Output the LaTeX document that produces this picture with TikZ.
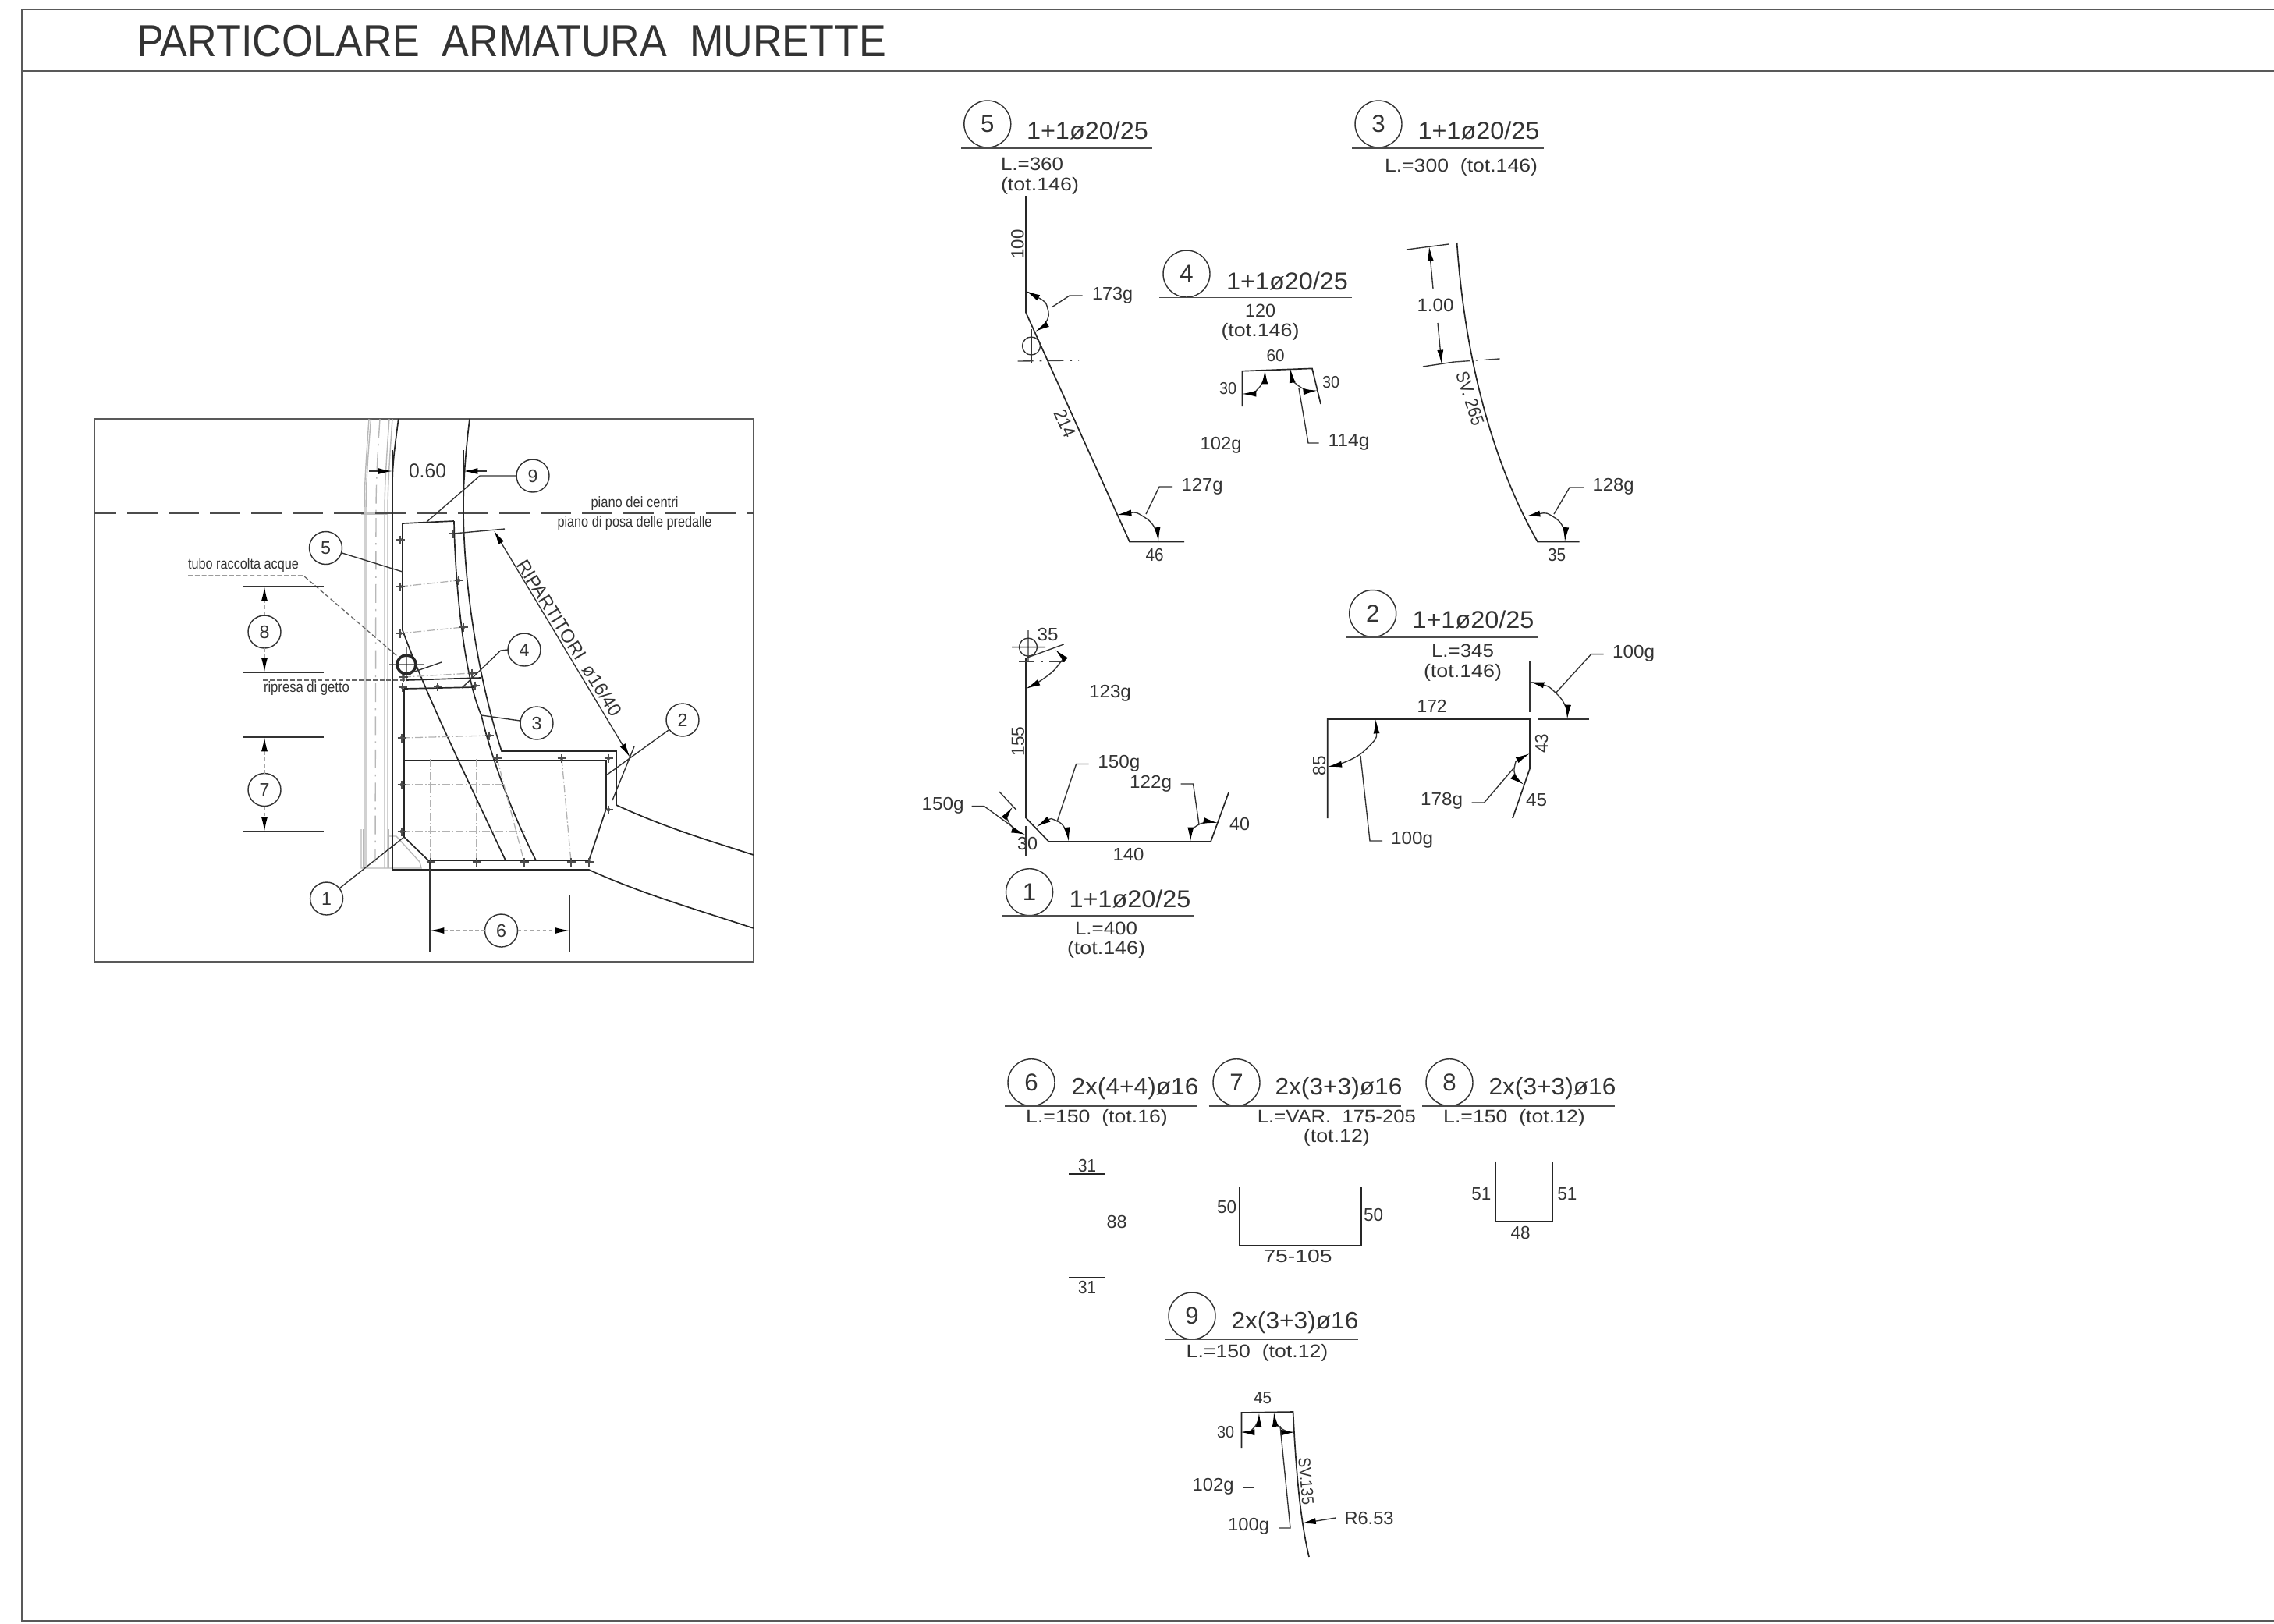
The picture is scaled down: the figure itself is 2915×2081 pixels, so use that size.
\documentclass[tikz,border=0pt]{standalone}
\usepackage{fontspec}
\usepackage{graphicx}
\setmainfont{Liberation Sans}
\usetikzlibrary{arrows.meta,calc}
\newdimen\pxu \pxu=0.25pt
\newcounter{tn}
\newcommand\Tx[5][0]{\stepcounter{tn}\node[txt,rotate=#1,font=\fontsize{#4}{#4}\selectfont] (t\thetn) at (#2) {\resizebox{#3\pxu}{\height}{#5}};}
\newcommand\Cn[5]{\node[numc,minimum size=#3*0.5pt,font=\fontsize{#4}{#4}\selectfont] (#1) at (#2) {#5};}
\newcommand\Rb[1]{\fill[rebar] (#1) circle (2.2);\draw[rebarc] ($(#1)+(-5.5,0)$) -- ($(#1)+(5.5,0)$) ($(#1)+(0,-5.5)$) -- ($(#1)+(0,5.5)$);}
\newcommand\Ang[3]{\draw[thinl,<->] plot[smooth,tension=0.9] coordinates {(#1) (#2) (#3)};}
\tikzset{
 txt/.style={inner sep=0pt,outer sep=0pt,text=black!80},
 numc/.style={circle,draw=black!80,line width=0.36pt,inner sep=0pt,outer sep=0pt,text=black!80},
 frame/.style={draw=black!65,line width=0.5pt},
 bar/.style={draw=black!85,line width=0.42pt,line join=miter},
 thinl/.style={draw=black!80,line width=0.34pt},
 rule/.style={draw=black!70,line width=0.45pt},
 grayl/.style={draw=black!28,line width=0.35pt},
 graydd/.style={draw=black!28,line width=0.35pt,dash pattern=on 6pt off 2pt on 0.6pt off 2pt},
 stir/.style={draw=black!30,line width=0.32pt,dash pattern=on 2.5pt off 0.7pt on 0.4pt off 0.7pt},
 rebar/.style={black!85},
 rebarc/.style={draw=black!70,line width=0.28pt},
 dimd/.style={draw=black!35,line width=0.3pt,dash pattern=on 1.2pt off 0.8pt},
 cdash/.style={draw=black!75,line width=0.34pt,dash pattern=on 5pt off 2pt on 0.7pt off 2pt},
 >={Latex[length=4.6pt,width=2pt,color=black]},
}
\begin{document}
\begin{tikzpicture}[x=0.25pt,y=-0.25pt]
\useasboundingbox (0,0) rectangle (2915,2081);
% sheet border
\draw[frame] (2915,12) -- (28,12) -- (28,2078) -- (2915,2078);
\draw[frame] (28,91) -- (2915,91);
\Tx{655.5,53}{961}{14.4}{PARTICOLARE\ \ ARMATURA\ \ MURETTE}
% ---------- left detail ----------
\draw[frame] (121,537) rectangle (966,1233);
% gray wall lines
\draw[grayl] (473,537) .. controls (470,580) and (467,620) .. (467,658) -- (467,1113);
\draw[grayl] (475.5,537) .. controls (472,580) and (469,620) .. (469,658) -- (469,1113);
\draw[graydd] (487,537) .. controls (484,580) and (482,620) .. (482,658) -- (481,1105);
\draw[grayl] (499,537) .. controls (496,580) and (493,620) .. (493,658) -- (493,1113);
\draw[grayl] (503,537) .. controls (500,580) and (497,620) .. (497,658) -- (497,1113);
\draw[grayl] (463,1063) -- (463,1113) -- (540,1113) -- (538,1105) -- (508,1072) -- (498,1072);
\draw[grayl] (465.5,1063) -- (465.5,1113);
\draw[grayl] (498,1063) -- (498,1113);
\draw[draw=black!25,line width=1.1pt] (463,658) -- (498,658);
% centre line
\draw[draw=black!70,line width=0.42pt,dash pattern=on 9.75pt off 3.5pt,dash phase=2.75pt] (121,658) -- (966,658);
% concrete outline
\draw[bar] (510.7,537) .. controls (508,560) and (503,590) .. (503,620) -- (503,1115) -- (755,1115) .. controls (820,1145) and (890,1165) .. (966,1190);
\draw[bar] (602,537) .. controls (598,570) and (594,610) .. (594,650) .. controls (594,740) and (610,860) .. (643,963) -- (790,963) -- (790,1032) .. controls (850,1060) and (910,1078) .. (966,1096);
\draw[bar,line width=0.7pt] (503,577) -- (503,648);
\draw[bar,line width=0.6pt] (594,577) -- (594,658);
% rebars
\draw[bar] (582,668) -- (516,671) -- (516,808) .. controls (550,900) and (600,1000) .. (648,1103);
\draw[bar] (582,668) .. controls (583,730) and (592,860) .. (617,917) .. controls (627,960) and (650,1030) .. (687,1103);
\draw[bar] (518,883) -- (518,1073) -- (549,1103) -- (755,1103) -- (777,1037) -- (777,975) -- (518,975);
\draw[bar] (518,883) -- (607,881);
\draw[bar] (520,872) -- (616,869);
\draw[draw=black!60,line width=0.32pt,dash pattern=on 1.5pt off 0.7pt] (337,872) -- (520,872);
% stirrups
\draw[stir] (513,752) -- (588,744);
\draw[stir] (513,812) -- (594,804);
\draw[stir] (517,868) -- (605,863);
\draw[stir] (515,946) -- (627,943);
\draw[stir] (515,1006) -- (647,1006);
\draw[stir] (515,1066) -- (673,1066);
\draw[stir] (552,973) -- (552,1105);
\draw[stir] (611,973) -- (611,1105);
\draw[stir] (637,972) -- (672,1105);
\draw[stir] (720,972) -- (732,1105);
\foreach \xx/\yy in {513/692,513/752,513/812,581/684,588/744,594/804,517/868,516/881,561/880,605/863,609/879,515/946,627/943,515/1006,637/972,720/972,515/1066,780/972,780/1038,552/1105,611/1105,672/1105,732/1105,755/1105}{
 \coordinate (rb) at (\xx,\yy);\Rb{rb}
}
% water pipe
\draw[bar,line width=0.9pt] (521,852) circle (12);
\draw[thinl] (499,852) -- (543,852) (521,830) -- (521,873) (523,864) -- (566,849);
\Tx{312,725}{142}{4.8}{tubo raccolta acque}
\coordinate (pu1) at (241,738);\coordinate (pu2) at (389,738);\coordinate (pu3) at (509,841);
\draw[draw=black!60,line width=0.32pt,dash pattern=on 1.5pt off 0.7pt] (pu1) -- (pu2) -- (pu3);
\Tx{393,883}{110}{4.8}{ripresa di getto}
\Tx{813.5,645.7}{112}{4.8}{piano dei centri}
\Tx{813.5,671}{198}{4.8}{piano di posa delle predalle}
% 0.60
\Tx{548,604}{48}{6.4}{0.60}
\draw[thinl,->] (473,604) -- (503,604);
\draw[thinl,->] (624,604) -- (594,604);
% number balloons
\Cn{c1}{418.6,1152}{21}{5.8}{1}
\Cn{c2}{875,923}{21}{5.8}{2}
\Cn{c3}{688,927}{21}{5.8}{3}
\Cn{c4}{672,833}{21}{5.8}{4}
\Cn{c5}{417.5,702.5}{21}{5.8}{5}
\Cn{c6}{642.5,1193}{21}{5.8}{6}
\Cn{c7}{339,1012.5}{21}{5.8}{7}
\Cn{c8}{339,810}{21}{5.8}{8}
\Cn{c9}{683,610}{21}{5.8}{9}
\draw[thinl] (c1) -- (518,1073);
\draw[thinl] (c2) -- (777,994);
\draw[thinl] (c3) -- (617,917);
\draw[thinl] (c4.west) -- (641.7,834) -- (592,882);
\draw[thinl] (c5) -- (516,733);
\draw[thinl] (c9.west) -- (615,610) -- (547,669);
% side dims
\draw[thinl] (312,752) -- (415,752) (312,862) -- (415,862) (312,945) -- (415,945) (312,1066) -- (415,1066);
\draw[dimd,->] (c8) -- (339,752);
\draw[dimd,->] (c8) -- (339,862);
\draw[dimd,->] (c7) -- (339,945);
\draw[dimd,->] (c7) -- (339,1066);
\draw[thinl] (551,1105) -- (551,1220) (730,1147) -- (730,1220);
\draw[dimd,->] (c6) -- (551,1193);
\draw[dimd,->] (c6) -- (730,1193);
% ripartitori
\draw[thinl] (581,684) -- (647,678);
\draw[thinl] (813,957) -- (785,1026);
\draw[thinl,<->] (633,680) -- (807.7,971);
\Tx[-58]{730,818}{232}{6}{RIPARTITORI\ \ ø16/40}
% ---------- bar 5 ----------
\Cn{h5}{1265.8,159}{30}{7.8}{5}
\draw[rule] (1232,189.6) -- (1477,189.6);
\Tx{1394,167}{156}{7.8}{1+1ø20/25}
\Tx{1323,210}{80}{5.9}{L.=360}
\Tx{1333,238.6}{100}{5.9}{(tot.146)}
\draw[bar] (1315,251) -- (1315,400.6) -- (1448,694.5) -- (1518,694.5);
\Tx[90]{1304.5,313}{37}{5.8}{100}
\Ang{1315,373}{1344,400}{1327,425}
\draw[thinl] (1348,394) -- (1371,379) -- (1387.5,379);
\Tx{1426,378.6}{52}{5.8}{173g}
\draw[thinl] (1322,443.5) circle (11.5);
\draw[thinl] (1300,443.5) -- (1343,443.5) (1322,422) -- (1322,465);
\draw[cdash] (1304.5,463) -- (1383,462);
\Tx[-65.7]{1365,543}{37}{5.8}{214}
\Ang{1432,660}{1470,665}{1485,694.5}
\draw[thinl] (1469,659) -- (1486,624) -- (1503,624);
\Tx{1541,623.5}{53}{5.8}{127g}
\Tx{1480,711}{23}{5.8}{46}
% ---------- bar 3 ----------
\Cn{h3}{1767,159}{30}{7.8}{3}
\draw[rule] (1733,189.6) -- (1978.5,189.6);
\Tx{1895.5,167}{156}{7.8}{1+1ø20/25}
\Tx{1873,214}{196}{5.9}{L.=300\ \ (tot.146)}
\draw[bar] (1867.6,311) .. controls (1875,420) and (1900,570) .. (1971,694.5) -- (2024.5,694.5);
\draw[thinl] (1803,320) -- (1857,313);
\draw[thinl] (1824,470) -- (1864,464);
\draw[cdash] (1864,464) -- (1929,459.5);
\Tx{1840,391.6}{47}{5.9}{1.00}
\draw[thinl,<-] (1832,316) -- (1837,370);
\draw[thinl,->] (1843,414) -- (1848,467);
\Tx[-72]{1884.5,511}{71}{5.8}{SV. 265}
\Ang{1956,662}{1995,665}{2006,694.5}
\draw[thinl] (1992,659) -- (2012,625) -- (2030,625);
\Tx{2068,624}{53}{5.8}{128g}
\Tx{1995.5,711}{23}{5.8}{35}
% ---------- bar 4 ----------
\Cn{h4}{1521,351}{30}{7.8}{4}
\draw[rule] (1486,381.4) -- (1733,381.4);
\Tx{1650,360}{156}{7.8}{1+1ø20/25}
\Tx{1615.5,398}{39}{5.9}{120}
\Tx{1615.5,425}{100}{5.9}{(tot.146)}
\draw[bar] (1592.4,521) -- (1592.4,475.7) -- (1682,472.4) -- (1693,518);
\Tx{1635,456}{23}{5.4}{60}
\Tx{1574,498}{22}{5.4}{30}
\Tx{1706,490}{22}{5.4}{30}
\Ang{1592,505}{1614,497}{1621.5,474}
\Ang{1654,472.4}{1665,495}{1689,500.6}
\draw[thinl] (1665,498) -- (1677,568) -- (1690.6,568);
\Tx{1729,567}{53}{5.8}{114g}
\Tx{1565,571}{53}{5.8}{102g}
% ---------- bar 1 ----------
\draw[bar] (1315,843) -- (1315,1048.5) -- (1344.5,1079) -- (1552,1079) -- (1575,1016);
\draw[thinl] (1318,829.6) circle (11.5);
\draw[thinl] (1297,829.6) -- (1340,829.6) (1318,808) -- (1318,848) (1317,843) -- (1363.6,826);
\draw[cdash] (1306,848) -- (1366,848);
\Tx{1343,813}{27}{5.8}{35}
\Ang{1353,833}{1354,856}{1315,883}
\Tx{1423,888.6}{54}{5.8}{123g}
\Tx[90]{1305,950.6}{38}{5.8}{155}
\draw[thinl] (1281,1015) -- (1303,1038.5);
\draw[thinl] (1315,1058.5) -- (1315,1098);
\Ang{1298,1034.6}{1293.5,1055}{1314.5,1070}
\draw[thinl] (1245.7,1033.6) -- (1261.6,1033.6) -- (1298,1060);
\Tx{1208.7,1033}{54}{5.8}{150g}
\Tx{1317,1081}{26}{5.8}{30}
\Ang{1328.6,1060}{1357,1053.5}{1370,1079}
\draw[thinl] (1355,1053.5) -- (1379.6,979.5) -- (1395.5,979.5);
\Tx{1434.4,979}{54}{5.8}{150g}
\Ang{1526,1079}{1535,1058}{1561,1055}
\draw[thinl] (1537,1057) -- (1529.5,1005) -- (1513.5,1005);
\Tx{1475,1005}{54}{5.8}{122g}
\Tx{1589,1056}{26}{5.8}{40}
\Tx{1446.5,1095}{40}{5.8}{140}
\Cn{h1}{1319.6,1143.7}{30}{7.8}{1}
\draw[rule] (1285,1174) -- (1531,1174);
\Tx{1448.5,1152}{156}{7.8}{1+1ø20/25}
\Tx{1418,1190}{80}{5.9}{L.=400}
\Tx{1418,1217.6}{100}{5.9}{(tot.146)}
% ---------- bar 2 ----------
\Cn{h2}{1759.7,786.5}{30}{7.8}{2}
\draw[rule] (1726,817) -- (1971.4,817);
\Tx{1888.5,794.8}{156}{7.8}{1+1ø20/25}
\Tx{1875,834}{80}{5.9}{L.=345}
\Tx{1875,862}{100}{5.9}{(tot.146)}
\draw[bar] (1701.7,1049) -- (1701.7,922) -- (1961,922) -- (1961,985.5) -- (1939,1049);
\draw[thinl] (1961,847) -- (1961,912.5);
\draw[thinl] (1971.4,922) -- (2036.5,922);
\Ang{1961,874}{1998,892}{2009,922}
\draw[thinl] (1995,887.6) -- (2039.7,838.6) -- (2055.6,838.6);
\Tx{2094,838}{54}{5.8}{100g}
\Tx{1835.6,905}{38}{5.8}{172}
\Tx[90]{1691,981.5}{25}{5.8}{85}
\Ang{1763.5,922}{1749.5,962}{1701.7,983}
\draw[thinl] (1744,969) -- (1756,1078) -- (1772,1078);
\Tx{1810,1077}{54}{5.8}{100g}
\Tx[90]{1976,953}{25}{5.8}{43}
\Ang{1961,966}{1941,985.5}{1953.6,1006}
\draw[thinl] (1941,984) -- (1902.5,1029) -- (1886.6,1029);
\Tx{1848,1027}{54}{5.8}{178g}
\Tx{1969.5,1026}{27}{5.8}{45}
% ---------- bars 6 7 8 ----------
\Cn{h6}{1322,1387.7}{30}{7.8}{6}
\draw[rule] (1288,1418) -- (1534.5,1418);
\Tx{1455,1395.5}{163}{7.6}{2x(4+4)ø16}
\Tx{1406,1433}{181.6}{5.9}{L.=150\ \ (tot.16)}
\draw[bar] (1370,1505) -- (1416.4,1505) -- (1416.4,1638) -- (1370,1638);
\Tx{1393.6,1494}{23}{5.8}{31}
\Tx{1393.6,1650.5}{23}{5.8}{31}
\Tx{1431.6,1566}{26}{5.8}{88}
\Cn{h7}{1585,1387.7}{30}{7.8}{7}
\draw[rule] (1549.7,1418) -- (1796,1418);
\Tx{1716,1395.5}{163}{7.6}{2x(3+3)ø16}
\Tx{1713.4,1431}{203}{5.9}{L.=VAR.\ \ 175-205}
\Tx{1713.4,1458}{85}{5.9}{(tot.12)}
\draw[bar] (1588.8,1522) -- (1588.8,1597) -- (1745,1597) -- (1745,1522);
\Tx{1572.5,1547}{25}{5.8}{50}
\Tx{1760.6,1557}{25}{5.8}{50}
\Tx{1663.5,1610}{88}{5.8}{75-105}
\Cn{h8}{1858,1387.7}{30}{7.8}{8}
\draw[rule] (1823.4,1418) -- (2070,1418);
\Tx{1990,1395.5}{163}{7.6}{2x(3+3)ø16}
\Tx{1941,1433}{181.6}{5.9}{L.=150\ \ (tot.12)}
\draw[bar] (1916.7,1489.6) -- (1916.7,1566) -- (1990,1566) -- (1990,1489.6);
\Tx{1898.8,1531}{25}{5.8}{51}
\Tx{2008.8,1531}{25}{5.8}{51}
\Tx{1949,1580}{25}{5.8}{48}
% ---------- bar 9 ----------
\Cn{h9}{1528,1687}{30}{7.8}{9}
\draw[rule] (1493.4,1717) -- (1740.5,1717);
\Tx{1660,1695.6}{163}{7.6}{2x(3+3)ø16}
\Tx{1611.5,1734}{181.6}{5.9}{L.=150\ \ (tot.12)}
\draw[bar] (1591.5,1857) -- (1591.5,1811) -- (1657.6,1810) .. controls (1661,1880) and (1666,1945) .. (1678,1996);
\Tx{1618.6,1792}{23}{5.4}{45}
\Tx{1571,1836}{22}{5.4}{30}
\Ang{1590,1836}{1607.7,1830}{1614,1811.4}
\Ang{1633,1810.5}{1641,1830}{1660,1836}
\draw[thinl] (1607.7,1828) -- (1607.7,1907) -- (1594,1907);
\Tx{1555,1906}{53}{5.8}{102g}
\draw[thinl] (1641,1828) -- (1654,1959) -- (1640,1959);
\Tx{1600.7,1957}{53}{5.8}{100g}
\Tx[-85]{1674.4,1899}{60}{5.4}{SV.135}
\Tx{1755,1946}{63}{5.8}{R6.53}
\coordinate (r653) at (1712,1946);
\draw[thinl,->] (r653) -- (1668.4,1953);
\end{tikzpicture}
\end{document}
